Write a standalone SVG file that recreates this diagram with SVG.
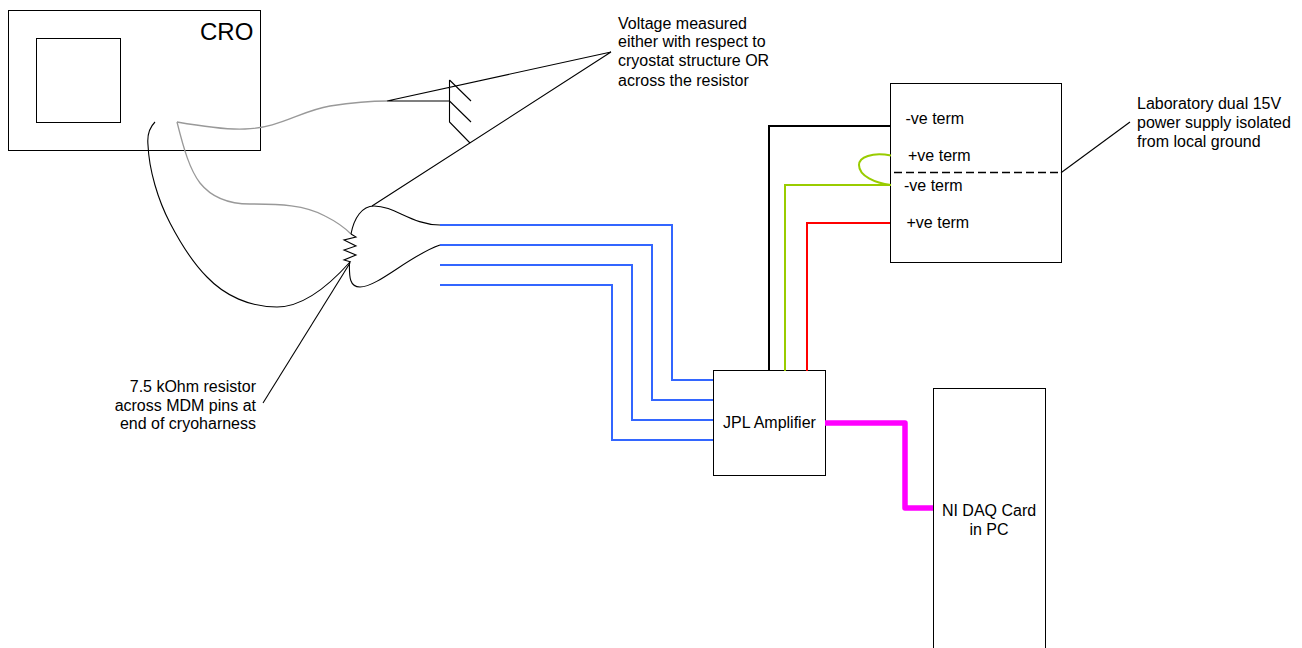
<svg xmlns="http://www.w3.org/2000/svg" width="1302" height="648" viewBox="0 0 1302 648">
<style>
text{font-family:"Liberation Sans",Arial,sans-serif;font-size:16px;fill:#000}
.box{fill:#fff;stroke:#000;stroke-width:1}
.k{fill:none;stroke:#000;stroke-width:1.1}
.g{fill:none;stroke:#999;stroke-width:1.3}
.b{fill:none;stroke:#3366ff;stroke-width:2}
</style>
<rect width="1302" height="648" fill="#fff"/>
<g id="cro"><rect class="box" x="8.500" y="10.500" width="252" height="140"/><rect class="box" x="36.500" y="38.500" width="84" height="84"/><text x="200" y="40" style="font-size:24px">CRO</text></g>
<g id="psu"><rect class="box" x="890.500" y="83.500" width="171" height="179"/>
<text x="905.500" y="124">-ve term</text><text x="908" y="161">+ve term</text><text x="904" y="191">-ve term</text><text x="906.500" y="228">+ve term</text></g>
<g id="amp"><rect class="box" x="713.500" y="370.500" width="112" height="105"/><text x="769.500" y="428" text-anchor="middle">JPL Amplifier</text></g>
<g id="daq"><rect class="box" x="933.500" y="388.500" width="112" height="262"/><text x="989" y="515.500" text-anchor="middle">NI DAQ Card</text><text x="989" y="535" text-anchor="middle">in PC</text></g>
<g id="labels">
<text x="618" y="28.500">Voltage measured</text><text x="618" y="47">either with respect to</text><text x="618" y="66">cryostat structure OR</text><text x="618" y="86">across the resistor</text>
<text x="1137" y="108.500">Laboratory dual 15V</text><text x="1137" y="127.500">power supply isolated</text><text x="1137" y="146.500">from local ground</text>
<text x="256" y="392" text-anchor="end">7.5 kOhm resistor</text><text x="256" y="410.500" text-anchor="end">across MDM pins at</text><text x="256" y="429" text-anchor="end">end of cryoharness</text>
</g>
<g id="connectors">
<path class="b" d="M440 225H672V380H713M440 245H652V400H713M440 265H632V420H713M440 285H612V440H713"/>
<path fill="none" stroke="#000" stroke-width="2" d="M769 371V126H890"/>
<path fill="none" stroke="#99cc00" stroke-width="2" d="M785 371V185H891M891 155.500C872 152 859 157 859 165C859 176 875 183 891 185"/>
<path fill="none" stroke="#f00" stroke-width="2" d="M807 371V223H890"/>
<path fill="none" stroke="#f0f" stroke-width="5.500" stroke-linejoin="round" d="M825 423H905V508H933"/>
<path class="g" d="M177 122C200 126 225 130 245 129C280 128 300 111 330 106C350 103 370 101 387 101"/>
<path class="g" d="M177 122C184 150 190 170 200 183C212 198 228 204 250 204C280 204 305 205 325 216C335 221 345 228 351 234"/>
<path class="k" d="M155 122C149 128 147 135 148 145C149 170 158 200 170 223C182 246 195 265 207 277C225 296 250 307 277 307C300 307 325 290 350 262"/>
<path class="k" d="M351 234C354 218 362 206 374 206C395 206 412 225 440 225"/>
<path class="k" d="M349.500 262C349 278 350 287 360 287C378 287 410 255 440 245"/>
<path class="k" d="M351 234L356 237L344 240L356 246L344 250L356 255L344 260L351 262"/>
<path class="k" d="M372 206L611 52L387 101H449.500M449.500 80V122L470 143M449.500 80L471 101M449.500 101L471 122"/>
<path class="k" d="M350 263L263 403"/>
<path fill="none" stroke="#000" stroke-width="1.500" stroke-dasharray="8 4" d="M894 172.500H1061"/>
<path class="k" d="M1061 172.700L1130 122"/>
</g>
</svg>
